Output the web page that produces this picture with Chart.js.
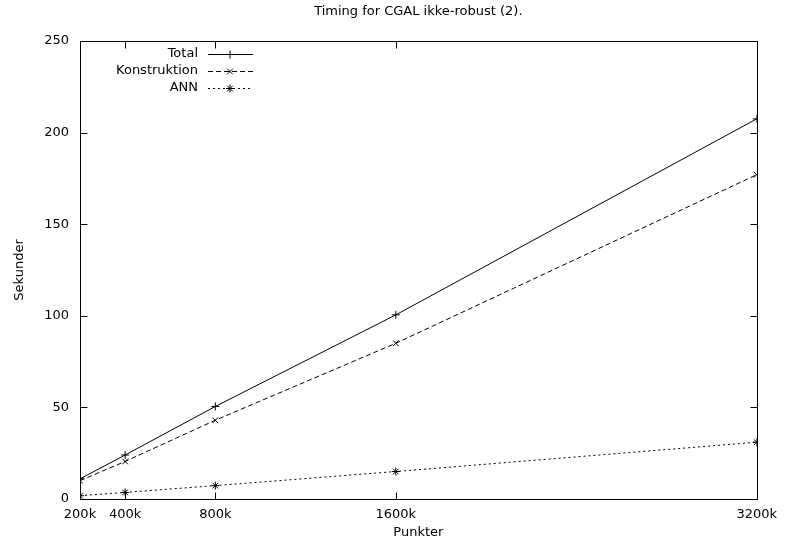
<!DOCTYPE html>
<html>
<head>
<meta charset="utf-8">
<script src="https://cdn.jsdelivr.net/npm/chart.js@4.4.1/dist/chart.umd.min.js"></script>
<style>
  html, body { margin: 0; padding: 0; background: #fff; }
</style>
</head>
<body>
<canvas id="chart" width="785" height="547"></canvas>
<script>
// --- Data ---
const punkter = [200000, 400000, 800000, 1600000, 3200000];
const xTicks = [200000, 400000, 800000, 1600000, 3200000];
const yTicks = [0, 50, 100, 150, 200, 250];
const total = [11, 24, 50.5, 100.5, 207.5];
const konstruktion = [10, 20.5, 43, 85, 177];
const ann = [1.8, 3.6, 7.3, 15, 31];

const FONT = 'DejaVu Sans';
const SIZE = 13;
const toXY = (vals) => punkter.map((p, i) => ({ x: p, y: vals[i] }));

// --- gnuplot-style frame, inward ticks, title and legend ---
const gnuFrame = {
    id: 'gnuFrame',
    beforeDatasetsDraw(chart) {
        const { ctx, chartArea: a, scales: { x, y } } = chart;
        const L = Math.round(a.left) + 0.5, R = Math.round(a.right) + 0.5;
        const T = Math.round(a.top) + 0.5, B = Math.round(a.bottom) + 0.5;
        ctx.save();
        ctx.strokeStyle = '#000';
        ctx.lineWidth = 1;
        ctx.beginPath();
        ctx.rect(L, T, R - L, B - T);
        xTicks.forEach(v => {
            const px = Math.round(x.getPixelForValue(v)) + 0.5;
            ctx.moveTo(px, B); ctx.lineTo(px, B - 7);
            ctx.moveTo(px, T); ctx.lineTo(px, T + 7);
        });
        yTicks.forEach(v => {
            const py = Math.round(y.getPixelForValue(v)) + 0.5;
            ctx.moveTo(L, py); ctx.lineTo(L + 7, py);
            ctx.moveTo(R, py); ctx.lineTo(R - 7, py);
        });
        ctx.stroke();

        // title centred over the plot area
        ctx.font = SIZE + 'px "' + FONT + '"';
        ctx.fillStyle = '#000';
        ctx.textAlign = 'center';
        ctx.textBaseline = 'middle';
        ctx.fillText('Timing for CGAL ikke-robust (2).', (a.left + a.right) / 2, 12);
        ctx.restore();
    },
    afterDatasetsDraw(chart) {
        const { ctx, chartArea: a } = chart;
        const xr = a.left + 118;
        chart.data.datasets.forEach((ds, i) => {
            const y = Math.round(a.top + 13 + i * 17);
            ctx.save();
            ctx.font = SIZE + 'px "' + FONT + '"';
            ctx.fillStyle = '#000';
            ctx.textAlign = 'right';
            ctx.textBaseline = 'middle';
            ctx.fillText(ds.label, xr, y);
            ctx.strokeStyle = ds.borderColor;
            ctx.lineWidth = 1;
            ctx.setLineDash(ds.borderDash || []);
            ctx.beginPath();
            ctx.moveTo(xr + 10, y + 0.5);
            ctx.lineTo(xr + 55, y + 0.5);
            ctx.stroke();
            ctx.setLineDash([]);
            Chart.helpers.drawPoint(ctx, { pointStyle: ds.pointStyle, radius: 4, rotation: 0, borderWidth: 1 }, xr + 32, y + 0.5);
            ctx.restore();
        });
    }
};

const common = {
    borderColor: '#000',
    borderWidth: 1,
    pointRadius: 4,
    pointBorderColor: '#000',
    pointBorderWidth: 1,
    pointBackgroundColor: 'rgba(0,0,0,0)',
    fill: false,
    tension: 0
};

new Chart(document.getElementById('chart').getContext('2d'), {
    type: 'line',
    data: {
        datasets: [
            { ...common, label: 'Total', data: toXY(total), pointStyle: 'cross' },
            { ...common, label: 'Konstruktion', data: toXY(konstruktion), pointStyle: 'crossRot', borderDash: [5, 3] },
            { ...common, label: 'ANN', data: toXY(ann), pointStyle: 'star', borderDash: [2, 3] }
        ]
    },
    options: {
        responsive: false,
        devicePixelRatio: 1,
        animation: false,
        layout: { padding: { top: 41, right: 23, left: 0, bottom: 0 } },
        plugins: {
            legend: { display: false },
            title: { display: false },
            tooltip: { enabled: false }
        },
        scales: {
            x: {
                type: 'linear',
                min: 200000,
                max: 3200000,
                afterBuildTicks: (s) => { s.ticks = xTicks.map(v => ({ value: v })); },
                afterFit: (s) => { s.height = 48; },
                grid: { display: false, drawTicks: false },
                border: { display: false },
                ticks: {
                    autoSkip: false, maxRotation: 0, padding: 8,
                    color: '#000', font: { family: FONT, size: SIZE },
                    callback: (v) => (v / 1000) + 'k'
                },
                title: {
                    display: true, text: 'Punkter', color: '#000',
                    font: { family: FONT, size: SIZE }, padding: { top: 0, bottom: 7 }
                }
            },
            y: {
                min: 0,
                max: 250,
                afterBuildTicks: (s) => { s.ticks = yTicks.map(v => ({ value: v })); },
                afterFit: (s) => { s.width = 80; },
                grid: { display: false, drawTicks: false },
                border: { display: false },
                ticks: { padding: 11, color: '#000', font: { family: FONT, size: SIZE } },
                title: {
                    display: true, text: 'Sekunder', color: '#000',
                    font: { family: FONT, size: SIZE }, padding: { top: 12, bottom: 0 }
                }
            }
        }
    },
    plugins: [gnuFrame]
});
</script>
</body>
</html>
